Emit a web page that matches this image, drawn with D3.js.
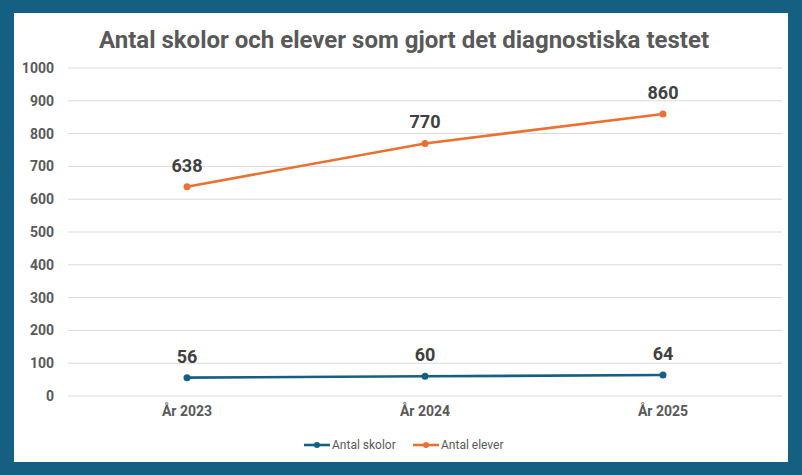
<!DOCTYPE html>
<html>
<head>
<meta charset="utf-8">
<script src="https://cdn.jsdelivr.net/npm/d3@7"></script>
<style>
  body { margin: 0; background: #156082; }
  svg { display: block; }
</style>
</head>
<body>
<div id="chart"></div>
<script>
// data
const years = ["År 2023", "År 2024", "År 2025"];
const skolor = [56, 60, 64];
const elever = [638, 770, 860];
const yTicks = [0, 100, 200, 300, 400, 500, 600, 700, 800, 900, 1000];

const series = [
    { name: "Antal skolor", values: skolor, color: "#156082" },
    { name: "Antal elever", values: elever, color: "#E97132" }
];

const W = 802, H = 475;
const font = "Roboto, 'Open Sans', sans-serif";

let svg = d3.select("#chart").append("svg")
    .attr("width", W)
    .attr("height", H);

svg.append("rect").attr("width", W).attr("height", H).attr("fill", "#156082");
svg.append("rect")
    .attr("x", 14).attr("y", 13)
    .attr("width", 774).attr("height", 449)
    .attr("fill", "#ffffff");

let x = d3.scaleBand().domain(years).range([68, 782]);
let y = d3.scaleLinear().domain([0, 1000]).range([396, 68]);

// gridlines
svg.append("g")
    .selectAll("line")
    .data(yTicks)
    .join("line")
    .attr("x1", 68).attr("x2", 782)
    .attr("y1", d => y(d)).attr("y2", d => y(d))
    .attr("stroke", "#d9d9d9")
    .attr("stroke-width", 1);

// y axis labels
let yAxis = svg.append("g")
    .attr("transform", "translate(60,0)")
    .call(d3.axisLeft(y).tickValues(yTicks).tickFormat(d3.format("d")).tickSize(0).tickPadding(6));
yAxis.select(".domain").remove();
yAxis.selectAll("text")
    .attr("font-family", font)
    .attr("font-size", 14)
    .attr("font-weight", "bold")
    .attr("fill", "#595959");

// x axis labels
let xAxis = svg.append("g")
    .attr("transform", "translate(0,396)")
    .call(d3.axisBottom(x).tickSize(0).tickPadding(10));
xAxis.select(".domain").remove();
xAxis.selectAll("text")
    .attr("font-family", font)
    .attr("font-size", 14)
    .attr("font-weight", "bold")
    .attr("fill", "#595959");

let cx = d => x(d) + x.bandwidth() / 2;
let line = d3.line()
    .x((d, i) => cx(years[i]))
    .y(d => y(d));

for (let s of series) {
    svg.append("path")
        .attr("d", line(s.values))
        .attr("fill", "none")
        .attr("stroke", s.color)
        .attr("stroke-width", 2.6)
        .attr("stroke-linecap", "round");

    svg.append("g")
        .selectAll("circle")
        .data(s.values)
        .join("circle")
        .attr("cx", (d, i) => cx(years[i]))
        .attr("cy", d => y(d))
        .attr("r", 3.5)
        .attr("fill", s.color);

    svg.append("g")
        .selectAll("text")
        .data(s.values)
        .join("text")
        .attr("x", (d, i) => cx(years[i]))
        .attr("y", d => y(d) - 15)
        .attr("text-anchor", "middle")
        .attr("font-family", font)
        .attr("font-size", 18)
        .attr("font-weight", "bold")
        .attr("fill", "#404040")
        .text(d => d);
}

// title
svg.append("text")
    .attr("x", 404).attr("y", 48)
    .attr("text-anchor", "middle")
    .attr("font-family", font)
    .attr("font-size", 24)
    .attr("font-weight", "bold")
    .attr("fill", "#595959")
    .text("Antal skolor och elever som gjort det diagnostiska testet");

// legend
let legendX = [304, 413];
series.forEach((s, i) => {
    let g = svg.append("g").attr("transform", `translate(${legendX[i]},445)`);
    g.append("line")
        .attr("x1", 0).attr("x2", 26)
        .attr("stroke", s.color).attr("stroke-width", 2.6);
    g.append("circle").attr("cx", 13).attr("r", 3).attr("fill", s.color);
    g.append("text")
        .attr("x", 28).attr("y", 4)
        .attr("font-family", font)
        .attr("font-size", 12)
        .attr("fill", "#595959")
        .text(s.name);
});
</script>
</body>
</html>
